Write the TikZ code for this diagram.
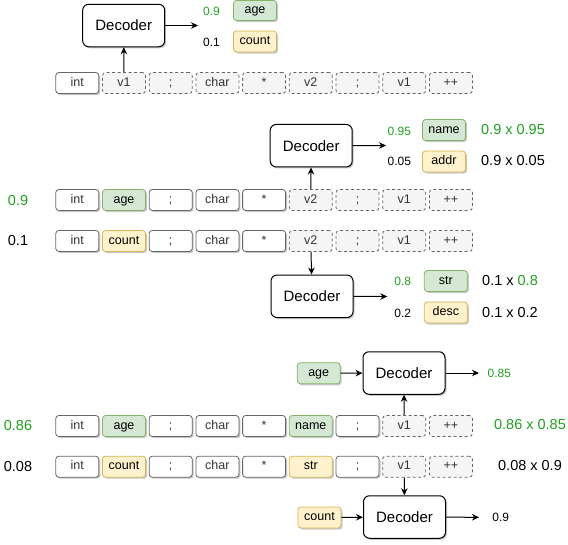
\documentclass[tikz,border=0pt]{standalone}
\usepackage{fontspec}
\setmainfont{Liberation Sans}
\usetikzlibrary{arrows.meta,shadows}
\definecolor{gfill}{HTML}{D5E8D4}
\definecolor{gline}{HTML}{82B366}
\definecolor{yfill}{HTML}{FFF2CC}
\definecolor{yline}{HTML}{D6B656}
\definecolor{dfill}{HTML}{F5F5F5}
\definecolor{dline}{HTML}{666666}
\definecolor{tline}{HTML}{666666}
\definecolor{ttext}{HTML}{333333}
\definecolor{grn}{HTML}{1FA01F}
\tikzset{
  x=1pt,y=1pt,
  shd/.style={drop shadow={shadow xshift=1.5pt,shadow yshift=-1.5pt,opacity=0.22,fill=black}},
  tokbase/.style={rectangle,rounded corners=3pt,minimum width=43pt,minimum height=21pt,inner sep=0pt,
    font=\fontsize{12.5}{14}\selectfont,text height=9pt,text depth=2.6pt,text=ttext,line width=0.8pt},
  tok/.style={tokbase,draw=tline,fill=white,shd},
  gtok/.style={tokbase,draw=gline,fill=gfill,text=black,shd},
  ytok/.style={tokbase,draw=yline,fill=yfill,text=black,shd},
  dtok/.style={tokbase,draw=dline,fill=dfill,dash pattern=on 3pt off 2.5pt},
  dec/.style={rectangle,rounded corners=6pt,draw=black,fill=white,line width=1pt,minimum width=82pt,
    minimum height=42.5pt,font=\fontsize{15}{17}\selectfont,shd},
  sm/.style={font=\fontsize{12}{14}\selectfont,inner sep=0pt},
  big/.style={font=\fontsize{14.5}{17}\selectfont,inner sep=0pt},
  arr/.style={-{Stealth[length=7pt,width=6.5pt]},line width=1pt},
}
\begin{document}
\begin{tikzpicture}
\useasboundingbox (0,0) rectangle (568,-544);
% ---------- section 1 ----------
\foreach \t/\s [count=\i] in {int/tok,v1/dtok,;/dtok,char/dtok,*/dtok,v2/dtok,;/dtok,v1/dtok,++/dtok}
  \node[\s] (ra\i) at ({77.3+46.7*(\i-1)},-83) {\t};
\node[dec] (d1) at (123.7,-25.5) {Decoder};
\coordinate (e1) at (198,-25.5);
\draw[arr] (ra2) -- (d1);
\draw[arr] (d1) -- (e1);
\node[sm,text=grn] (p1a) at (211.5,-11) {0.9};
\node[gtok,minimum height=20pt] (c1a) at (255,-10.5) {age};
\node[sm] (p1b) at (211.5,-42) {0.1};
\node[ytok] (c1b) at (255,-41.5) {count};
% ---------- section 2 ----------
\foreach \t/\s [count=\i] in {int/tok,age/gtok,;/tok,char/tok,*/tok,v2/dtok,;/dtok,v1/dtok,++/dtok}
  \node[\s] (rb\i) at ({77.3+46.7*(\i-1)},-200) {\t};
\foreach \t/\s [count=\i] in {int/tok,count/ytok,;/tok,char/tok,*/tok,v2/dtok,;/dtok,v1/dtok,++/dtok}
  \node[\s] (rc\i) at ({77.3+46.7*(\i-1)},-241) {\t};
\node[big,text=grn] (lb) at (18,-200.5) {0.9};
\node[big] (lc) at (18,-241) {0.1};
\node[dec] (d2) at (311.2,-145.7) {Decoder};
\coordinate (e2) at (386,-145.5);
\draw[arr] (rb6) -- (d2);
\draw[arr] (d2) -- (e2);
\node[sm,text=grn] (p2a) at (399.3,-131.7) {0.95};
\node[gtok] (c2a) at (444,-130) {name};
\node[big,text=grn] (q2a) at (513,-130) {0.9 x 0.95};
\node[sm] (p2b) at (399.3,-161.7) {0.05};
\node[ytok] (c2b) at (444,-161.5) {addr};
\node[big] (q2b) at (513,-161) {0.9 x 0.05};
\node[dec] (d3) at (312,-296.3) {Decoder};
\coordinate (e3) at (387.3,-296.5);
\draw[arr] (rc6) -- (d3);
\draw[arr] (d3) -- (e3);
\node[sm,text=grn] (p3a) at (402.7,-281) {0.8};
\node[gtok] (c3a) at (445.8,-281) {str};
\node[big] (q3a) at (510,-281) {0.1 x \textcolor{grn}{0.8}};
\node[sm] (p3b) at (402.7,-313) {0.2};
\node[ytok] (c3b) at (445.8,-312.5) {desc};
\node[big] (q3b) at (510,-313) {0.1 x 0.2};
% ---------- section 3 ----------
\foreach \t/\s [count=\i] in {int/tok,age/gtok,;/tok,char/tok,*/tok,name/gtok,;/tok,v1/dtok,++/dtok}
  \node[\s] (rd\i) at ({77.3+46.7*(\i-1)},-426) {\t};
\foreach \t/\s [count=\i] in {int/tok,count/ytok,;/tok,char/tok,*/tok,str/ytok,;/tok,v1/dtok,++/dtok}
  \node[\s] (re\i) at ({77.3+46.7*(\i-1)},-466.7) {\t};
\node[big,text=grn] (ld) at (18,-426) {0.86};
\node[big] (le) at (18,-466.7) {0.08};
\node[dec] (d4) at (404,-373) {Decoder};
\node[gtok] (i4) at (318.7,-373.3) {age};
\coordinate (e4) at (479,-373);
\draw[arr] (i4) -- (d4);
\draw[arr] (rd8) -- (d4);
\draw[arr] (d4) -- (e4);
\node[sm,text=grn] (p4) at (499.3,-373) {0.85};
\node[big,text=grn] (q4) at (530,-425) {0.86 x 0.85};
\node[big] (q5) at (530,-466) {0.08 x 0.9};
\node[dec] (d5) at (404.5,-517) {Decoder};
\node[ytok] (i5) at (319.5,-517.5) {count};
\coordinate (e5) at (479,-517.3);
\draw[arr] (i5) -- (d5);
\draw[arr] (re8) -- (d5);
\draw[arr] (d5) -- (e5);
\node[sm] (p5) at (500.7,-517) {0.9};
\end{tikzpicture}
\end{document}
